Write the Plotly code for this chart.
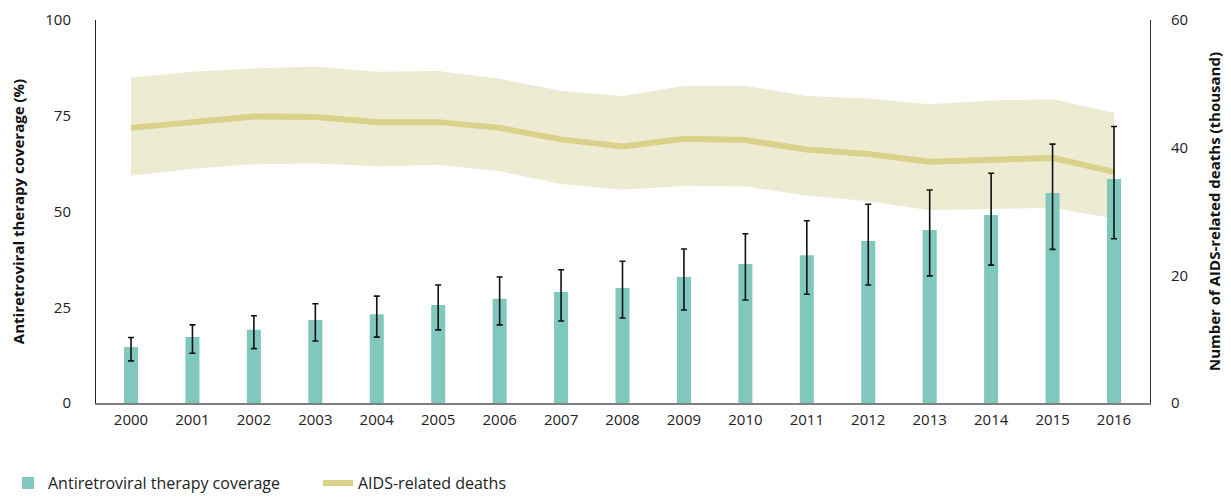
import plotly.graph_objects as go

years = list(range(2000, 2017))
# Antiretroviral therapy coverage (%) with uncertainty bounds
art_coverage = [14.6, 17.2, 19.1, 21.7, 23.2, 25.6, 27.2, 29.0, 30.0, 32.9, 36.3, 38.6, 42.3, 45.2, 49.1, 54.8, 58.5]
art_upper = [17.1, 20.4, 22.8, 25.9, 27.9, 30.8, 32.9, 34.8, 37.0, 40.2, 44.2, 47.6, 51.9, 55.6, 60.0, 67.6, 72.2]
art_lower = [11.0, 13.0, 14.2, 16.2, 17.2, 19.1, 20.4, 21.4, 22.2, 24.3, 26.9, 28.4, 30.8, 33.2, 36.0, 40.1, 42.9]
# AIDS-related deaths (thousand) with uncertainty bounds
deaths = [43.1, 44.0, 44.9, 44.8, 44.0, 44.0, 43.1, 41.3, 40.2, 41.4, 41.2, 39.7, 39.0, 37.8, 38.2, 38.4, 36.2]
deaths_upper = [51.0, 51.9, 52.4, 52.7, 51.9, 52.0, 50.8, 48.9, 48.1, 49.7, 49.7, 48.1, 47.7, 46.8, 47.4, 47.6, 45.5]
deaths_lower = [35.6, 36.7, 37.4, 37.5, 37.1, 37.3, 36.3, 34.3, 33.4, 34.0, 33.9, 32.5, 31.6, 30.2, 30.4, 30.6, 28.9]

BAR = "#80c7bd"
LINE = "#d9d28a"
BAND = "#eeebd3"
FONT = "Open Sans"

err_plus = [u - v for u, v in zip(art_upper, art_coverage)]
err_minus = [v - l for v, l in zip(art_coverage, art_lower)]

fig = go.Figure()
# Band + line on yaxis (right side); bars on yaxis2 (left side, overlay -> drawn on top)
fig.add_trace(go.Scatter(x=years, y=deaths_lower, mode="lines", line=dict(width=0, color=BAND),
                         showlegend=False, hoverinfo="skip", yaxis="y"))
fig.add_trace(go.Scatter(x=years, y=deaths_upper, mode="lines", line=dict(width=0, color=BAND),
                         fill="tonexty", fillcolor=BAND, showlegend=False, hoverinfo="skip", yaxis="y"))
fig.add_trace(go.Scatter(x=years, y=deaths, mode="lines", name="AIDS-related deaths",
                         line=dict(color=LINE, width=6), yaxis="y", legendrank=2))
fig.add_trace(go.Bar(x=years, y=art_coverage, name="Antiretroviral therapy coverage",
                     marker=dict(color=BAR, line=dict(width=0)), width=0.228, yaxis="y2",
                     error_y=dict(type="data", symmetric=False, array=err_plus, arrayminus=err_minus,
                                  color="#111111", thickness=1.6, width=3),
                     legendrank=1))

# page body has an 8px default margin, so the figure is sized to fit the 1231x497 window
fig.update_layout(
    width=1223, height=489,
    margin=dict(l=88, r=81, t=12, b=94),
    paper_bgcolor="white", plot_bgcolor="white",
    font=dict(family=FONT, size=15, color="#222222"),
    showlegend=True,
    legend=dict(orientation="h", xref="container", yref="container", x=-0.009, y=0.063,
                xanchor="left", yanchor="top", font=dict(size=16, color="#222222"),
                entrywidth=265, traceorder="normal"),
    xaxis=dict(range=[1999.43, 2016.586], tickmode="array", tickvals=years,
               ticktext=[str(y) for y in years], showgrid=False, zeroline=False,
               showline=True, linecolor="#7f7f7f", linewidth=2, automargin=False,
               ticks="outside", ticklen=2, tickcolor="rgba(0,0,0,0)"),
    yaxis=dict(range=[0, 60], side="right", tickvals=[0, 20, 40, 60], showgrid=False,
               zeroline=False, showline=True, linecolor="#333333", linewidth=1, automargin=False,
               ticks="outside", ticklen=17, tickcolor="rgba(0,0,0,0)",
               title=dict(text="<b>Number of AIDS-related deaths (thousand)</b>",
                          font=dict(size=15, color="#111111"), standoff=22)),
    yaxis2=dict(range=[0, 100], side="left", overlaying="y", tickvals=[0, 25, 50, 75, 100],
                showgrid=False, zeroline=False, showline=True, linecolor="#222222", linewidth=1,
                automargin=False,
                ticks="outside", ticklen=21, tickcolor="rgba(0,0,0,0)",
                title=dict(text="<b>Antiretroviral therapy coverage (%)</b>",
                           font=dict(size=15, color="#111111"), standoff=19)),
)

fig.write_html("out.html")
